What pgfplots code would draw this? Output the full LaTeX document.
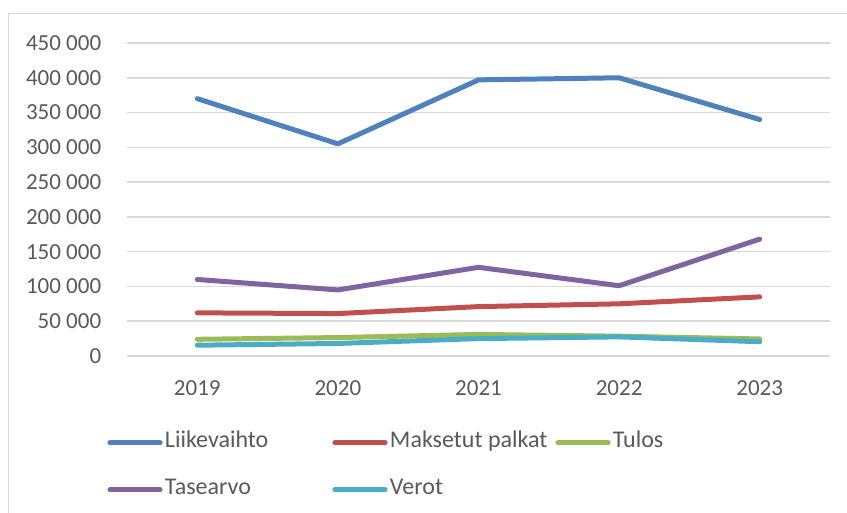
\documentclass[border=0pt]{standalone}
\usepackage{fontspec}
\setmainfont{Carlito}
\usepackage{pgfplots}
\pgfplotsset{compat=1.18}
\definecolor{cBlue}{HTML}{4F81BD}
\definecolor{cRed}{HTML}{C0504D}
\definecolor{cGreen}{HTML}{9BBB59}
\definecolor{cPurple}{HTML}{8064A2}
\definecolor{cCyan}{HTML}{4BACC6}
\definecolor{gridc}{HTML}{D9D9D9}
\definecolor{textc}{HTML}{595959}
\begin{document}
\begin{tikzpicture}[x=1pt,y=1pt]
\useasboundingbox (-63.5,-78.5) rectangle (360,178);
\draw[color=gridc, line width=0.8pt] (-59.25,-90) -- (-59.25,171.25) -- (370,171.25);
\begin{axis}[
  at={(0,0)}, anchor=south west,
  scale only axis, width=351.5pt, height=156.5pt,
  xmin=-0.5, xmax=4.5, ymin=0, ymax=450000,
  scaled y ticks=false,
  xtick={0,1,2,3,4}, xticklabels={2019,2020,2021,2022,2023},
  ytick={0,50000,100000,150000,200000,250000,300000,350000,400000,450000},
  yticklabels={0,50 000,100 000,150 000,200 000,250 000,300 000,350 000,400 000,450 000},
  ymajorgrids, grid style={gridc, line width=0.8pt},
  axis line style={draw=none},
  major tick length=0pt,
  yticklabel style={font=\fontsize{11.5}{13}\selectfont, text=textc, anchor=east, inner sep=0pt, xshift=-12.7pt},
  xticklabel style={font=\fontsize{11.5}{13}\selectfont, text=textc, anchor=center, inner sep=0pt, yshift=-16pt},
  every axis plot/.append style={line width=2.5pt, line cap=round, line join=round, mark=none},
  legend columns=3,
  legend image code/.code={\path (-1.2pt,0pt) (26.3pt,0pt); \draw[#1, line cap=round] (0pt,0pt) -- (25.1pt,0pt);},
  legend style={at={(-0.0313,-0.246)}, anchor=north west, draw=none, fill=none,
    inner sep=0pt, outer sep=0pt, row sep=13.5pt,
    font=\fontsize{12}{14}\selectfont, text=textc,
    nodes={inner sep=0pt, text height=7.5pt, text depth=2.5pt},
    /tikz/every even column/.append style={column sep=3.5pt}},
  legend cell align=left,
  clip=false,
]
\addplot[cBlue] coordinates {(0,370000) (1,305000) (2,397000) (3,400000) (4,340000)};
\addlegendentry{\makebox[79pt][l]{Liikevaihto}}
\addplot[cRed] coordinates {(0,62000) (1,61000) (2,71000) (3,75000) (4,85000)};
\addlegendentry{\makebox[78pt][l]{Maksetut palkat}}
\addplot[cGreen] coordinates {(0,24000) (1,26500) (2,31000) (3,28500) (4,24500)};
\addlegendentry{Tulos}
\addplot[cPurple] coordinates {(0,110000) (1,95000) (2,127500) (3,101000) (4,168000)};
\addlegendentry{Tasearvo}
\addplot[cCyan] coordinates {(0,15500) (1,18000) (2,25000) (3,27500) (4,20500)};
\addlegendentry{Verot}
\end{axis}
\end{tikzpicture}
\end{document}
